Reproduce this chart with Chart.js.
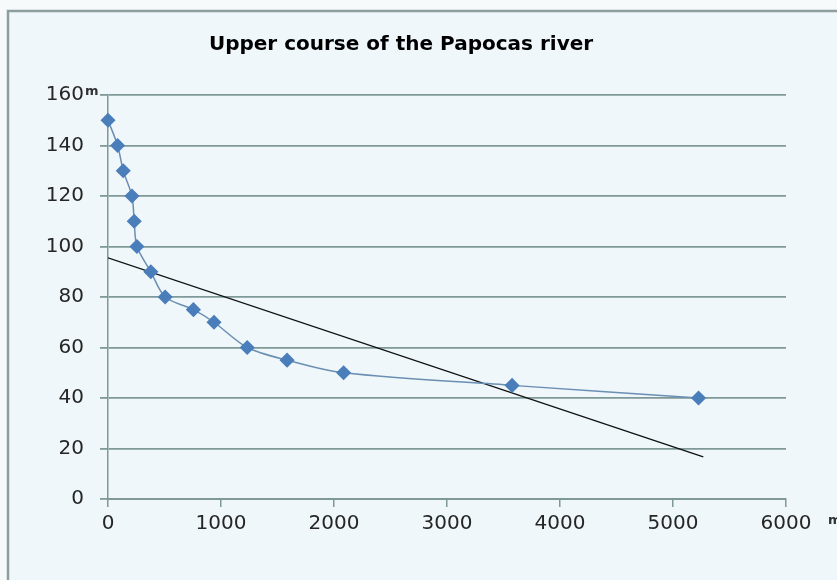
<!DOCTYPE html>
<html>
<head>
<meta charset="utf-8">
<script src="https://cdn.jsdelivr.net/npm/chart.js@4.4.1/dist/chart.umd.min.js"></script>
<style>
  html, body { margin: 0; padding: 0; background: #f6fafb; }
  #wrap { width: 837px; height: 580px; position: relative; }
</style>
</head>
<body>
<div id="wrap"><canvas id="c" width="837" height="580"></canvas></div>
<script>
// Data
const titleText = 'Upper course of the Papocas river';
const distances = [0, 85, 135, 212, 232, 256, 379, 506, 756, 938, 1232, 1585, 2085, 3576, 5226];
const heights = [150, 140, 130, 120, 110, 100, 90, 80, 75, 70, 60, 55, 50, 45, 40];
const trendX = [0, 5268];
const trendY = [95.5, 16.7];
const yUnit = 'm';
const xUnit = 'm';

const profilePts = distances.map((x, i) => ({ x: x, y: heights[i] }));
const trendPts = trendX.map((x, i) => ({ x: x, y: trendY[i] }));

const gridColor = '#7f9898';
const tickFont = { family: 'DejaVu Sans', size: 20 };

const framePlugin = {
  id: 'frame',
  beforeDraw(chart) {
    const ctx = chart.ctx;
    ctx.save();
    ctx.fillStyle = '#f6fafb';
    ctx.fillRect(0, 0, chart.width, chart.height);
    ctx.fillStyle = '#eff7fa';
    ctx.fillRect(8, 11, chart.width, chart.height);
    ctx.strokeStyle = '#8e9e9e';
    ctx.lineWidth = 2.5;
    ctx.strokeRect(8, 11, chart.width + 20, chart.height + 20);
    ctx.restore();
  },
  afterDraw(chart) {
    const ctx = chart.ctx;
    const y = chart.scales.y, x = chart.scales.x;
    ctx.save();
    ctx.fillStyle = '#333';
    ctx.font = 'bold 13px "DejaVu Sans"';
    ctx.textBaseline = 'middle';
    ctx.textAlign = 'left';
    ctx.fillText(yUnit, 85, y.getPixelForValue(160) - 3);
    ctx.fillText(xUnit, x.getPixelForValue(6000) + 42, x.bottom - 81 + 22);
    ctx.restore();
  }
};

new Chart(document.getElementById('c'), {
  type: 'scatter',
  data: {
    datasets: [
      {
        label: 'Profile',
        data: profilePts,
        showLine: true,
        borderColor: '#6a8fb3',
        borderWidth: 1.5,
        tension: 0.3,
        pointStyle: 'rectRot',
        pointRadius: 6.5,
        pointHoverRadius: 6.5,
        pointBackgroundColor: '#4a7ebb',
        pointBorderColor: '#4a7ebb',
        clip: false,
        order: 1
      },
      {
        label: 'Trend',
        data: trendPts,
        showLine: true,
        borderColor: '#111',
        borderWidth: 1.4,
        pointRadius: 0,
        tension: 0,
        order: 2
      }
    ]
  },
  options: {
    responsive: false,
    animation: false,
    layout: { padding: { left: 16, right: 51, top: 0, bottom: 0 } },
    plugins: {
      legend: { display: false },
      tooltip: { enabled: false },
      title: {
        display: true,
        text: titleText,
        color: '#000',
        font: { family: 'DejaVu Sans', size: 20, weight: 'bold' },
        padding: { top: 33, bottom: 38 }
      }
    },
    scales: {
      x: {
        type: 'linear',
        min: 0, max: 6000,
        afterFit(s) { s.height = 81; },
        ticks: { stepSize: 1000, color: '#262626', font: tickFont, padding: 5, maxRotation: 0,
                 callback: (v) => String(v) },
        grid: { drawOnChartArea: false, drawTicks: true, tickLength: 8, color: gridColor, lineWidth: 1.5 },
        border: { display: true, color: gridColor, width: 2 }
      },
      y: {
        min: 0, max: 160,
        afterFit(s) { s.width = 92; },
        ticks: { stepSize: 20, color: '#262626', font: tickFont, padding: 16,
                 callback: (v) => String(v) },
        grid: { color: gridColor, lineWidth: 1.8, tickLength: 8 },
        border: { display: true, color: gridColor, width: 1.5 }
      }
    }
  },
  plugins: [framePlugin]
});
</script>
</body>
</html>
